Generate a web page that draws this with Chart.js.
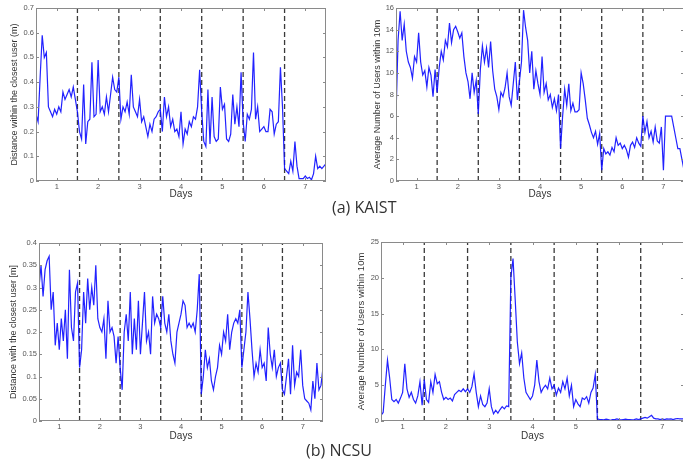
<!DOCTYPE html>
<html>
<head>
<meta charset="utf-8">
<script src="https://cdn.jsdelivr.net/npm/chart.js@4.4.1/dist/chart.umd.min.js"></script>
<style>
  body { margin: 0; width: 683px; height: 464px; overflow: hidden; background: #fff; position: relative; font-family: "Open Sans", sans-serif; }
  canvas { position: absolute; }
  .cap { position: absolute; font-size: 16px; line-height: 20px; color: #333; white-space: nowrap; }
</style>
</head>
<body>
<canvas id="kaistDist"></canvas>
<canvas id="kaistUsers"></canvas>
<canvas id="ncsuDist"></canvas>
<canvas id="ncsuUsers"></canvas>
<div class="cap" style="left:332px; top:197px;">(a) KAIST</div>
<div class="cap" style="left:306px; top:440px;">(b) NCSU</div>
<script>
// x of sample i is xStart + i * xStep (20 samples per day)
const xStart = 0.5;
const xStep = 0.05;
const dayTicks = [1, 2, 3, 4, 5, 6, 7];
const dayBreaks = [1.5, 2.5, 3.5, 4.5, 5.5, 6.5];

// (a) KAIST - distance within the closest user (m)
const kaistDist = [
  0.27, 0.24, 0.42, 0.59, 0.5, 0.52, 0.3, 0.28, 0.26, 0.29, 0.27, 0.3, 0.28, 0.36, 0.33, 0.35, 0.37, 0.34, 0.38, 0.33,
  0.28, 0.2, 0.17, 0.39, 0.15, 0.24, 0.25, 0.48, 0.26, 0.27, 0.49, 0.28, 0.3, 0.27, 0.34, 0.28, 0.35, 0.42, 0.37, 0.36,
  0.42, 0.25, 0.3, 0.28, 0.32, 0.27, 0.43, 0.3, 0.28, 0.26, 0.33, 0.24, 0.26, 0.22, 0.18, 0.23, 0.2, 0.25, 0.26, 0.28,
  0.29, 0.2, 0.34, 0.26, 0.3, 0.22, 0.25, 0.2, 0.21, 0.18, 0.28, 0.15, 0.21, 0.19, 0.24, 0.22, 0.26, 0.25, 0.3, 0.45,
  0.28, 0.16, 0.14, 0.37, 0.15, 0.34, 0.18, 0.16, 0.17, 0.38, 0.29, 0.31, 0.17, 0.16, 0.19, 0.35, 0.23, 0.3, 0.22, 0.44,
  0.24, 0.16, 0.27, 0.25, 0.29, 0.52, 0.25, 0.3, 0.2, 0.21, 0.22, 0.2, 0.2, 0.29, 0.28, 0.19, 0.23, 0.24, 0.46, 0.3,
  0.05, 0.04, 0.03, 0.08, 0.04, 0.16, 0.06, 0.01, 0.01, 0.01, 0.02, 0.01, 0.015, 0.005, 0.03, 0.1, 0.05, 0.06, 0.05, 0.06,
  0.07
];

// (a) KAIST - average number of users within 10m
const kaistUsers = [
  6, 13, 15.7, 13, 14.5, 12, 11, 10.5, 9.5, 11.5, 11, 13.7, 11, 9.8, 10.2, 8.7, 10.5, 9.8, 7.8, 10.3,
  8.2, 10.5, 12, 11.2, 13, 12.4, 14.6, 12.8, 14, 14.3, 13.8, 13.2, 13.7, 11.5, 10, 9.2, 7.6, 10, 8.2, 9.3,
  6.2, 10.3, 12.5, 11, 12.3, 10.5, 12.9, 10.2, 8.5, 7.8, 6.6, 8.2, 7.8, 8.6, 10, 7.8, 7, 9, 11, 7.5,
  9.2, 11, 15.8, 14.2, 13, 10, 12, 8.5, 10.2, 9, 8, 11.5, 8.2, 9, 7.5, 8, 6.8, 7.6, 6.5, 8,
  3, 6, 8.5, 7, 9, 6.5, 7.2, 6.4, 6.4, 6.6, 10, 9, 7.5, 5.8, 5.2, 4.5, 4, 4.6, 3.4, 4.4,
  1, 3, 2.5, 2.7, 2.4, 3.1, 2.7, 4, 3.3, 3.5, 3, 3.3, 2.9, 2.2, 3.3, 3.6, 3.1, 4, 3.5, 3.2,
  6, 4.5, 5.5, 4, 4.6, 3.6, 5, 3.7, 3.5, 5, 1, 6, 6, 6, 6, 5, 4, 3, 3, 2,
  1
];

// (b) NCSU - distance with the closest user [m]
const ncsuDist = [
  0.3, 0.35, 0.28, 0.34, 0.36, 0.37, 0.25, 0.29, 0.17, 0.22, 0.16, 0.23, 0.18, 0.25, 0.14, 0.34, 0.21, 0.18, 0.29, 0.31,
  0.12, 0.16, 0.29, 0.22, 0.32, 0.25, 0.3, 0.26, 0.35, 0.23, 0.21, 0.2, 0.23, 0.14, 0.27, 0.2, 0.21, 0.19, 0.13, 0.19,
  0.12, 0.07, 0.2, 0.24, 0.18, 0.29, 0.15, 0.23, 0.16, 0.27, 0.15, 0.22, 0.29, 0.18, 0.2, 0.15, 0.28, 0.22, 0.24, 0.23,
  0.21, 0.28, 0.22, 0.2, 0.24, 0.18, 0.15, 0.13, 0.2, 0.22, 0.24, 0.27, 0.26, 0.21, 0.22, 0.21, 0.22, 0.2, 0.25, 0.33,
  0.06, 0.1, 0.16, 0.12, 0.14, 0.09, 0.07, 0.1, 0.12, 0.17, 0.15, 0.2, 0.18, 0.24, 0.16, 0.2, 0.22, 0.23, 0.22, 0.25,
  0.12, 0.16, 0.2, 0.29, 0.23, 0.16, 0.1, 0.13, 0.11, 0.16, 0.12, 0.13, 0.09, 0.21, 0.15, 0.12, 0.16, 0.1, 0.12, 0.13,
  0.07, 0.06, 0.1, 0.14, 0.06, 0.17, 0.08, 0.11, 0.1, 0.16, 0.08, 0.05, 0.045, 0.04, 0.025, 0.09, 0.05, 0.13, 0.07, 0.08,
  0.12
];

// (b) NCSU - average number of users within 10m
const ncsuUsers = [
  0.8, 1.2, 5, 8.5, 6, 3, 2.7, 3, 2.5, 3.2, 4, 8, 4.5, 3.3, 4, 3, 2.5, 3.5, 5.5, 2.2,
  5.8, 3, 2.6, 5.5, 4, 6.5, 5.2, 5.5, 4, 3, 3.3, 3, 3.2, 2.8, 3.7, 4, 4.3, 4.1, 4.5, 4.1,
  4.5, 4, 4.8, 6.6, 4, 2, 3.5, 2.3, 2, 2.5, 4.5, 2, 1, 1.5, 1.1, 1.6, 2, 1.7, 2.1, 2,
  20, 22.7, 17, 11, 8, 9.5, 6, 4, 3.5, 3, 3.5, 5, 8.5, 5.5, 4, 4.6, 5, 4.5, 6, 4.5,
  5, 3.6, 4.6, 4, 5.5, 4.5, 6, 3.5, 5, 2, 3, 2.4, 2, 3.2, 3, 3.4, 2.5, 4, 4.6, 6.5,
  0.3, 0.2, 0.2, 0.15, 0.25, 0.2, 0.1, 0.2, 0.2, 0.3, 0.2, 0.15, 0.2, 0.25, 0.2, 0.2, 0.15, 0.2, 0.3, 0.2,
  0.3, 0.4, 0.5, 0.4, 0.6, 0.8, 0.4, 0.3, 0.3, 0.2, 0.3, 0.2, 0.3, 0.25, 0.3, 0.2, 0.3, 0.35, 0.3, 0.3,
  0.3
];

// box around the plot area plus small inward tick marks, matlab style
const framePlugin = {
  id: 'frame',
  afterDatasetsDraw(chart) {
    const { ctx, chartArea: a, scales } = chart;
    ctx.save();
    ctx.strokeStyle = '#8a8a8a';
    ctx.lineWidth = 1;
    ctx.strokeRect(a.left + 0.5, a.top + 0.5, a.right - a.left - 1, a.bottom - a.top - 1);
    ctx.beginPath();
    scales.y.ticks.forEach(t => {
      const y = Math.round(scales.y.getPixelForValue(t.value)) + 0.5;
      ctx.moveTo(a.left, y); ctx.lineTo(a.left + 3, y);
      ctx.moveTo(a.right, y); ctx.lineTo(a.right - 3, y);
    });
    scales.x.ticks.forEach(t => {
      const x = Math.round(scales.x.getPixelForValue(t.value)) + 0.5;
      ctx.moveTo(x, a.bottom); ctx.lineTo(x, a.bottom - 3);
      ctx.moveTo(x, a.top); ctx.lineTo(x, a.top + 3);
    });
    ctx.stroke();
    ctx.restore();
  }
};

function makeChart(id, values, yMax, yStep, yTitle, box) {
  const canvas = document.getElementById(id);
  canvas.width = box.w;
  canvas.height = box.h;
  canvas.style.left = box.left + 'px';
  canvas.style.top = box.top + 'px';

  const points = values.map((v, i) => ({ x: xStart + i * xStep, y: v }));
  const breakSets = dayBreaks.map(d => ({
    data: [{ x: d, y: 0 }, { x: d, y: yMax }],
    borderColor: '#3a3a3a',
    borderWidth: 1.3,
    borderDash: [5, 3],
    pointRadius: 0
  }));

  return new Chart(canvas, {
    type: 'line',
    data: {
      datasets: [{
        data: points,
        borderColor: 'rgba(10,10,255,0.9)',
        borderWidth: 1.2,
        pointRadius: 0,
        tension: 0
      }, ...breakSets]
    },
    options: {
      responsive: false,
      animation: false,
      events: [],
      layout: { padding: { top: box.pt, right: box.pr, left: 0, bottom: 0 } },
      plugins: { legend: { display: false }, tooltip: { enabled: false } },
      scales: {
        x: {
          type: 'linear',
          min: 0.5,
          max: 7.5,
          grid: { display: false, drawTicks: false },
          border: { display: false },
          afterBuildTicks: s => { s.ticks = dayTicks.map(v => ({ value: v })); },
          afterFit: s => { s.height = box.xh; },
          ticks: { font: { size: 7.5 }, color: '#555', padding: 1, maxRotation: 0 },
          title: { display: true, text: 'Days', font: { size: 10 }, color: '#333', padding: { top: 0, bottom: 0 } }
        },
        y: {
          min: 0,
          max: yMax,
          grid: { display: false, drawTicks: false },
          border: { display: false },
          afterFit: s => { s.width = box.yw; },
          ticks: {
            stepSize: yStep,
            font: { size: 7.5 },
            color: '#555',
            padding: 2,
            callback: v => String(+v.toFixed(2))
          },
          title: { display: true, text: yTitle, font: { size: box.tf }, color: '#333', padding: { top: box.tp, bottom: 0 } }
        }
      }
    },
    plugins: [framePlugin]
  });
}

makeChart('kaistDist', kaistDist, 0.7, 0.1, 'Distance within the closest user (m)',
  { left: 0, top: 0, w: 340, h: 200, yw: 36, xh: 19, pt: 8, pr: 14, tp: 9, tf: 9 });
makeChart('kaistUsers', kaistUsers, 16, 2, 'Average Number of Users within 10m',
  { left: 355, top: 0, w: 340, h: 200, yw: 41, xh: 19, pt: 8, pr: 11, tp: 17, tf: 9 });
makeChart('ncsuDist', ncsuDist, 0.4, 0.05, 'Distance with the closest user [m]',
  { left: 0, top: 230, w: 340, h: 212, yw: 39, xh: 21, pt: 13, pr: 17, tp: 8, tf: 9 });
makeChart('ncsuUsers', ncsuUsers, 25, 5, 'Average Number of Users within 10m',
  { left: 340, top: 230, w: 355, h: 212, yw: 41, xh: 21, pt: 12, pr: 11, tp: 16, tf: 9.5 });
</script>
</body>
</html>
